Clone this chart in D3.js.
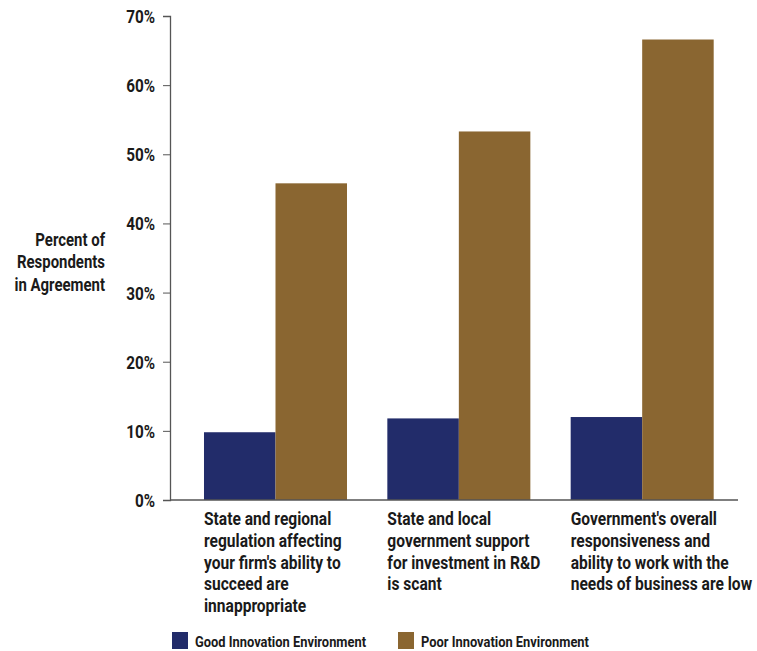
<!DOCTYPE html>
<html>
<head>
<meta charset="utf-8">
<script src="https://cdn.jsdelivr.net/npm/d3@7"></script>
<style>
    body { margin: 0; background: #fff; }
    svg text { font-family: Roboto, "Liberation Sans", sans-serif; font-weight: bold; fill: #1a1a1a; }
</style>
</head>
<body>
<svg id="chart" width="757" height="651"></svg>
<script>
// categories (x axis labels, already broken into lines)
var categories = [
    ["State and regional", "regulation affecting", "your firm's ability to", "succeed are", "innappropriate"],
    ["State and local", "government support", "for investment in R&D", "is scant"],
    ["Government's overall", "responsiveness and", "ability to work with the", "needs of business are low"]
];
var seriesNames = ["Good Innovation Environment", "Poor Innovation Environment"];
var goodValues = [9.8, 11.8, 12.0];
var poorValues = [45.8, 53.3, 66.6];
var yTicks = [0, 10, 20, 30, 40, 50, 60, 70];
var yTitle = ["Percent of", "Respondents", "in Agreement"];

var colors = {
    good: "#222c6a",
    poor: "#8a6631",
    axis: "#555555"
};

var margin = { top: 16, left: 170, right: 19, bottom: 151 };
var width = 757, height = 651;
var plotBottom = height - margin.bottom;

var svg = d3.select("#chart");

var x0 = d3.scaleBand()
    .domain(d3.range(categories.length))
    .range([margin.left, width - margin.right])
    .paddingInner(0.22)
    .paddingOuter(0.159)
    .align(0.583);

var x1 = d3.scaleBand()
    .domain([0, 1])
    .range([0, x0.bandwidth()]);

var y = d3.scaleLinear()
    .domain([0, 70])
    .range([plotBottom, margin.top]);

var rows = categories.map(function (c, i) {
    return { i: i, values: [goodValues[i], poorValues[i]] };
});

// the original uses a condensed face; squeeze the text horizontally
function place(x, y, k) {
    return "translate(" + x + "," + y + ") scale(" + k + ",1)";
}

// bars
svg.append("g")
    .selectAll("g")
    .data(rows)
    .enter()
    .append("g")
        .attr("transform", function (d) { return "translate(" + x0(d.i) + ",0)"; })
    .selectAll("rect")
    .data(function (d) { return d.values; })
    .enter()
    .append("rect")
        .attr("x", function (d, j) { return x1(j); })
        .attr("y", function (d) { return y(d); })
        .attr("width", x1.bandwidth())
        .attr("height", function (d) { return plotBottom - y(d); })
        .attr("fill", function (d, j) { return j === 0 ? colors.good : colors.poor; });

// y axis
var yAxis = svg.append("g")
    .attr("transform", "translate(" + margin.left + ",0)")
    .call(d3.axisLeft(y).tickValues(yTicks).tickSize(7).tickPadding(8)
        .tickFormat(function (d) { return d + "%"; }));
yAxis.select(".domain").attr("stroke", colors.axis).attr("stroke-width", 1.3);
yAxis.selectAll(".tick line").attr("stroke", colors.axis);
yAxis.selectAll(".tick text")
    .attr("x", 0)
    .attr("transform", place(-15, 0, 0.85))
    .style("font-size", "18px")
    .attr("dy", "0.36em");

// x axis line
svg.append("line")
    .attr("x1", margin.left)
    .attr("x2", width - margin.right)
    .attr("y1", plotBottom)
    .attr("y2", plotBottom)
    .attr("stroke", colors.axis)
    .attr("stroke-width", 1.5);

// category labels
var labels = svg.append("g")
    .selectAll("text")
    .data(categories)
    .enter()
    .append("text")
        .attr("transform", function (d, i) { return place(x0(i), plotBottom + 25, 0.89); })
        .style("font-size", "17.5px");
labels.selectAll("tspan")
    .data(function (d) { return d; })
    .enter()
    .append("tspan")
        .attr("x", 0)
        .attr("dy", function (d, k) { return k === 0 ? 0 : 21.8; })
        .text(function (d) { return d; });

// y title
svg.append("text")
    .attr("text-anchor", "end")
    .attr("transform", place(105, 246, 0.83))
    .style("font-size", "18px")
    .selectAll("tspan")
    .data(yTitle)
    .enter()
    .append("tspan")
        .attr("x", 0)
        .attr("dy", function (d, k) { return k === 0 ? 0 : 22.5; })
        .text(function (d) { return d; });

// legend
var legendX = [172, 398];
var legend = svg.append("g")
    .selectAll("g")
    .data(seriesNames)
    .enter()
    .append("g")
        .attr("transform", function (d, i) { return "translate(" + legendX[i] + ",632)"; });
legend.append("rect")
    .attr("width", 16)
    .attr("height", 17)
    .attr("fill", function (d, i) { return i === 0 ? colors.good : colors.poor; });
legend.append("text")
    .attr("transform", place(23, 14.5, 0.86))
    .style("font-size", "15px")
    .text(function (d) { return d; });
</script>
</body>
</html>
